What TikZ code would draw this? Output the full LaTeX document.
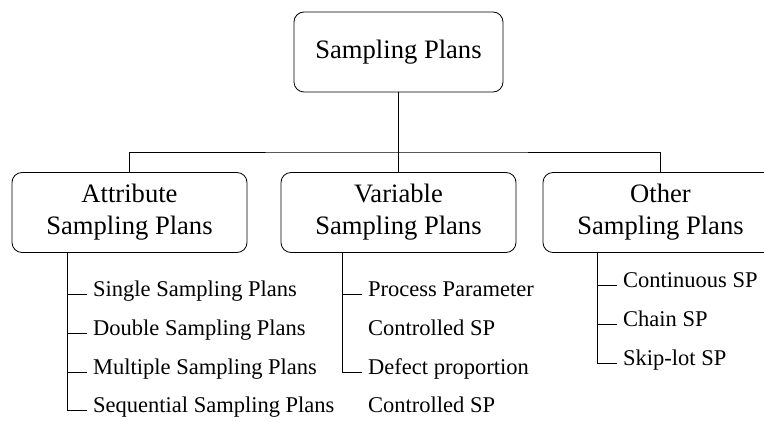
\documentclass[tikz,border=0pt]{standalone}
\usepackage{fontspec}
\setmainfont{Liberation Serif}
\begin{document}
\begin{tikzpicture}[x=1pt,y=-1pt,
  box/.style={draw, line width=0.8pt, rounded corners=10pt, minimum height=80pt, align=center, inner sep=0pt, font=\fontsize{26.6}{32}\selectfont},
  item/.style={anchor=mid west, inner sep=0pt, font=\fontsize{22.5}{27}\selectfont},
  conn/.style={line width=0.8pt}]
\clip (0,0) rectangle (764,422);
\node[box, minimum width=209pt] (root) at (398.5,52) {Sampling Plans};
\node[box, minimum width=235pt] (attr) at (129.5,212.5) {Attribute\\Sampling Plans};
\node[box, minimum width=235pt] (var) at (398.5,212.5) {Variable\\Sampling Plans};
\node[box, minimum width=235pt] (oth) at (660.5,212.5) {Other\\Sampling Plans};
\coordinate (bus) at (398.5,152);
\draw[conn] (root.south) -- (bus);
\draw[conn] (attr.north) |- (bus) -| (oth.north);
\draw[conn] (bus) -- (var.north);
% attribute items
\node[item] (a1) at (93,294) {Single Sampling Plans};
\node[item] (a2) at (93,333) {Double Sampling Plans};
\node[item] (a3) at (93,372) {Multiple Sampling Plans};
\node[item] (a4) at (93,410) {Sequential Sampling Plans};
\coordinate (at) at (67,252.5);
\draw[conn] (at) |- ([xshift=-6pt]a4.mid west);
\foreach \i in {a1,a2,a3} \draw[conn] ([xshift=-6pt]\i.mid west) -- +(-20,0);
% variable items
\node[item] (v1) at (368,294) {Process Parameter};
\node[item] (v2) at (368,333) {Controlled SP};
\node[item] (v3) at (368,372) {Defect proportion};
\node[item] (v4) at (368,410) {Controlled SP};
\coordinate (vt) at (342,252.5);
\draw[conn] (vt) |- ([xshift=-6pt]v3.mid west);
\draw[conn] ([xshift=-6pt]v1.mid west) -- +(-20,0);
% other items
\node[item] (o1) at (623,285) {Continuous SP};
\node[item] (o2) at (623,324) {Chain SP};
\node[item] (o3) at (623,363) {Skip-lot SP};
\coordinate (ot) at (597,252.5);
\draw[conn] (ot) |- ([xshift=-6pt]o3.mid west);
\foreach \i in {o1,o2} \draw[conn] ([xshift=-6pt]\i.mid west) -- +(-20,0);
\end{tikzpicture}
\end{document}
